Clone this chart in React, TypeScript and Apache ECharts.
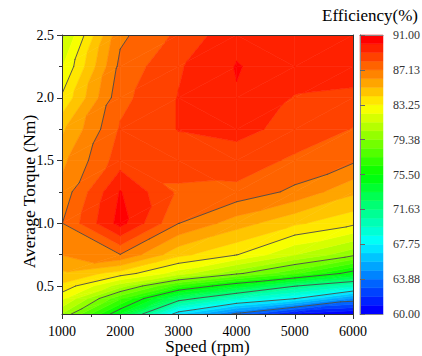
import React, { useEffect, useRef } from 'react';
import * as echarts from 'echarts';

// ---- data (efficiency %, per speed column, per torque row) ----
const SPEEDS = [1000, 2000, 3000, 4000, 5000, 6000];
const TORQUES = [0.277, 0.4, 0.5, 0.6, 0.75, 1.0, 1.25, 1.5, 1.75, 2.0, 2.25, 2.5];
const EFF_1000 = [80.3, 82.5, 84.0, 85.0, 86.2, 87.1, 86.5, 85.9, 85.0, 83.4, 82.2, 81.0];
const EFF_2000 = [74.5, 77.6, 80.8, 83.8, 87.1, 90.4, 90.1, 88.6, 88.2, 87.8, 87.4, 86.9];
const EFF_3000 = [67.0, 72.4, 77.05, 81.8, 84.5, 87.15, 87.9, 88.6, 89.1, 89.1, 88.95, 88.3];
const EFF_4000 = [63.6, 69.6, 74.4, 79.6, 83.3, 85.66, 87.8, 88.7, 89.3, 89.98, 90.08, 89.8];
const EFF_5000 = [60.8, 67.8, 71.7, 77.6, 81.35, 84.4, 86.9, 87.9, 88.8, 89.0, 89.6, 89.8];
const EFF_6000 = [60.0, 64.7, 69.8, 74.9, 79.66, 83.5, 85.4, 87.3, 88.05, 88.9, 89.4, 89.7];
const EFF = [EFF_1000, EFF_2000, EFF_3000, EFF_4000, EFF_5000, EFF_6000];

// ---- axes / colour scale ----
const X_TICKS = [1000, 2000, 3000, 4000, 5000, 6000];
const Y_TICKS = [0.5, 1.0, 1.5, 2.0, 2.5];
const Y_MINOR_TICKS = [0.75, 1.25, 1.75, 2.25];
const CBAR_TICKS = [60, 63.875, 67.75, 71.625, 75.5, 79.375, 83.25, 87.125, 91];
const LINE_LEVELS = [63.875, 67.75, 71.625, 75.5, 79.375, 83.25, 87.125];
const LEVEL_MIN = 60;
const LEVEL_MAX = 91;
const BAND_COUNT = 32;
const COLOR_STOPS = [
  [0, 0, 255],
  [0, 255, 255],
  [0, 255, 0],
  [255, 255, 0],
  [255, 0, 0],
];

const FONT = '"Liberation Serif", "Times New Roman", serif';
const STEP = (LEVEL_MAX - LEVEL_MIN) / BAND_COUNT;

function palette(t: number): string {
  const s = Math.max(0, Math.min(1, t)) * (COLOR_STOPS.length - 1);
  const i = Math.min(COLOR_STOPS.length - 2, Math.floor(s));
  const f = s - i;
  const a = COLOR_STOPS[i];
  const b = COLOR_STOPS[i + 1];
  const c = a.map((v, k) => Math.round(v + (b[k] - v) * f));
  return `rgb(${c[0]},${c[1]},${c[2]})`;
}
const bandColor = (k: number) => palette(k / (BAND_COUNT - 1));

type P = { x: number; y: number; v: number };

function clipPoly(poly: P[], level: number, above: boolean): P[] {
  const out: P[] = [];
  const n = poly.length;
  for (let k = 0; k < n; k++) {
    const a = poly[k];
    const b = poly[(k + 1) % n];
    const ina = above ? a.v >= level : a.v <= level;
    const inb = above ? b.v >= level : b.v <= level;
    if (ina) out.push(a);
    if (ina !== inb) {
      const f = (level - a.v) / (b.v - a.v);
      out.push({ x: a.x + f * (b.x - a.x), y: a.y + f * (b.y - a.y), v: level });
    }
  }
  return out;
}

function cellTriangles(api: any): P[][] {
  const i = api.value(2);
  const j = api.value(3);
  const mk = (a: number, b: number): P => {
    const p = api.coord([SPEEDS[a], TORQUES[b]]);
    return { x: p[0], y: p[1], v: EFF[a][b] };
  };
  const BL = mk(i, j);
  const BR = mk(i + 1, j);
  const TR = mk(i + 1, j + 1);
  const TL = mk(i, j + 1);
  if (Math.abs(TL.v - BR.v) <= Math.abs(BL.v - TR.v)) {
    return [
      [TL, TR, BR],
      [TL, BR, BL],
    ];
  }
  return [
    [BL, BR, TR],
    [BL, TR, TL],
  ];
}

const CELLS: number[][] = [];
for (let i = 0; i < SPEEDS.length - 1; i++) {
  for (let j = 0; j < TORQUES.length - 1; j++) {
    CELLS.push([SPEEDS[i], TORQUES[j], i, j]);
  }
}
const BANDS: number[][] = [];
for (let k = 0; k < BAND_COUNT; k++) BANDS.push([0.5, LEVEL_MIN + k * STEP, k]);

export default function App() {
  const ref = useRef<HTMLDivElement>(null);
  useEffect(() => {
    if (!ref.current) return;
    const chart = echarts.init(ref.current, undefined, { renderer: 'svg' });
    const axisColor = '#333';
    const option: any = {
      animation: false,
      graphic: [
        {
          type: 'text',
          x: 29,
          y: 191.5,
          rotation: Math.PI / 2,
          z: 50,
          style: {
            text: 'Average Torque (Nm)',
            fontFamily: FONT,
            fontSize: 17.5,
            fill: '#000',
            align: 'center',
            verticalAlign: 'middle',
          },
        },
      ],
      title: {
        text: 'Efficiency(%)',
        right: 4,
        top: 7,
        padding: 0,
        textStyle: { fontFamily: FONT, fontSize: 17, fontWeight: 'normal', color: '#000' },
      },
      grid: [
        { left: 62, top: 35, width: 291, height: 279, outerBoundsMode: 'none', containLabel: false },
        { left: 360, top: 35, width: 23, height: 279, outerBoundsMode: 'none', containLabel: false },
      ],
      xAxis: [
        {
          gridIndex: 0,
          type: 'value',
          min: 1000,
          max: 6000,
          interval: 1000,
          position: 'bottom',
          z: 10,
          axisLine: { show: true, lineStyle: { color: axisColor, width: 1 } },
          axisTick: { show: true, length: 5, lineStyle: { color: axisColor } },
          minorTick: { show: true, splitNumber: 2, length: 3, lineStyle: { color: axisColor } },
          splitLine: { show: false },
          axisLabel: {
            fontFamily: FONT,
            fontSize: 14,
            color: '#000',
            margin: 10,
            customValues: X_TICKS,
            formatter: (v: number) => String(v),
          },
          name: 'Speed (rpm)',
          nameLocation: 'middle',
          nameGap: 24,
          nameMoveOverlap: false,
          nameTextStyle: { fontFamily: FONT, fontSize: 17, color: '#000' },
        },
        {
          gridIndex: 0,
          type: 'value',
          min: 1000,
          max: 6000,
          position: 'top',
          z: 10,
          axisLine: { show: true, lineStyle: { color: axisColor, width: 1 } },
          axisTick: { show: false },
          axisLabel: { show: false },
          splitLine: { show: false },
        },
        {
          gridIndex: 1,
          type: 'value',
          min: 0,
          max: 1,
          position: 'bottom',
          z: 10,
          axisLine: { show: true, lineStyle: { color: '#888', width: 1 } },
          axisTick: { show: false },
          axisLabel: { show: false },
          splitLine: { show: false },
        },
        {
          gridIndex: 1,
          type: 'value',
          min: 0,
          max: 1,
          position: 'top',
          z: 10,
          axisLine: { show: true, lineStyle: { color: '#888', width: 1 } },
          axisTick: { show: false },
          axisLabel: { show: false },
          splitLine: { show: false },
        },
      ],
      yAxis: [
        {
          gridIndex: 0,
          type: 'value',
          min: 0.277,
          max: 2.5,
          position: 'left',
          z: 10,
          axisLine: { show: true, lineStyle: { color: axisColor, width: 1 } },
          axisTick: { show: true, length: 5, customValues: Y_TICKS, lineStyle: { color: axisColor } },
          splitLine: { show: false },
          axisLabel: {
            fontFamily: FONT,
            fontSize: 14,
            color: '#000',
            margin: 8,
            customValues: Y_TICKS,
            formatter: (v: number) => v.toFixed(1),
          },
        },
        {
          gridIndex: 0,
          type: 'value',
          min: 0.277,
          max: 2.5,
          position: 'right',
          z: 10,
          axisLine: { show: true, lineStyle: { color: axisColor, width: 1 } },
          axisTick: { show: false },
          axisLabel: { show: false },
          splitLine: { show: false },
        },
        {
          gridIndex: 0,
          type: 'value',
          min: 0.277,
          max: 2.5,
          position: 'left',
          z: 10,
          axisLine: { show: false },
          axisTick: { show: true, length: 3, customValues: Y_MINOR_TICKS, lineStyle: { color: axisColor } },
          axisLabel: { show: false, customValues: Y_MINOR_TICKS },
          splitLine: { show: false },
        },
        {
          gridIndex: 1,
          type: 'value',
          min: LEVEL_MIN,
          max: LEVEL_MAX,
          position: 'left',
          z: 10,
          axisLine: { show: true, lineStyle: { color: '#888', width: 1 } },
          axisTick: { show: false },
          axisLabel: { show: false },
          splitLine: { show: false },
        },
        {
          gridIndex: 1,
          type: 'value',
          min: LEVEL_MIN,
          max: LEVEL_MAX,
          position: 'right',
          z: 10,
          axisLine: { show: true, lineStyle: { color: '#888', width: 1 } },
          axisTick: { show: true, length: 5, customValues: CBAR_TICKS, lineStyle: { color: '#666' } },
          axisLabel: {
            fontFamily: FONT,
            fontSize: 12,
            color: '#333',
            margin: 10,
            customValues: CBAR_TICKS,
            formatter: (v: number) => v.toFixed(2),
          },
          splitLine: { show: false },
        },
      ],
      series: [
        {
          type: 'custom',
          coordinateSystem: 'cartesian2d',
          xAxisIndex: 0,
          yAxisIndex: 0,
          clip: true,
          silent: true,
          z: 2,
          encode: { x: 0, y: 1 },
          data: CELLS,
          renderItem: (_params: any, api: any) => {
            const tris = cellTriangles(api);
            const children: any[] = [];
            for (const tri of tris) {
              for (let k = 0; k < BAND_COUNT; k++) {
                const lo = k === 0 ? -Infinity : LEVEL_MIN + k * STEP;
                const hi = k === BAND_COUNT - 1 ? Infinity : LEVEL_MIN + (k + 1) * STEP;
                let poly = clipPoly(tri, lo, true);
                if (poly.length < 3) continue;
                poly = clipPoly(poly, hi, false);
                if (poly.length < 3) continue;
                const col = bandColor(k);
                children.push({
                  type: 'polygon',
                  shape: { points: poly.map((p) => [p.x, p.y]) },
                  style: { fill: col, stroke: col, lineWidth: 0.6 },
                });
              }
            }
            return { type: 'group', children };
          },
        },
        {
          type: 'custom',
          coordinateSystem: 'cartesian2d',
          xAxisIndex: 0,
          yAxisIndex: 0,
          clip: true,
          silent: true,
          z: 3,
          encode: { x: 0, y: 1 },
          data: CELLS,
          renderItem: (_params: any, api: any) => {
            const tris = cellTriangles(api);
            const children: any[] = [];
            for (const tri of tris) {
              for (const L of LINE_LEVELS) {
                const pts: number[][] = [];
                for (let k = 0; k < 3; k++) {
                  const a = tri[k];
                  const b = tri[(k + 1) % 3];
                  if (a.v >= L !== b.v >= L) {
                    const f = (L - a.v) / (b.v - a.v);
                    pts.push([a.x + f * (b.x - a.x), a.y + f * (b.y - a.y)]);
                  }
                }
                if (pts.length === 2) {
                  children.push({
                    type: 'line',
                    shape: { x1: pts[0][0], y1: pts[0][1], x2: pts[1][0], y2: pts[1][1] },
                    style: { stroke: '#4a4a4a', lineWidth: 0.9, lineCap: 'round' },
                  });
                }
              }
            }
            return { type: 'group', children };
          },
        },
        {
          type: 'custom',
          coordinateSystem: 'cartesian2d',
          xAxisIndex: 2,
          yAxisIndex: 3,
          silent: true,
          z: 2,
          encode: { x: 0, y: 1 },
          data: BANDS,
          renderItem: (_params: any, api: any) => {
            const k = api.value(2);
            const lo = LEVEL_MIN + k * STEP;
            const p0 = api.coord([0, lo]);
            const p1 = api.coord([1, lo + STEP]);
            const col = bandColor(k);
            return {
              type: 'rect',
              shape: { x: p0[0], y: p1[1], width: p1[0] - p0[0], height: p0[1] - p1[1] },
              style: { fill: col, stroke: col, lineWidth: 0.5 },
            };
          },
        },
      ],
    };
    chart.setOption(option);
    return () => chart.dispose();
  }, []);
  return (
    <div
      ref={ref}
      style={{ position: 'absolute', left: 0, top: 0, width: 422, height: 356, background: '#fff' }}
    />
  );
}
